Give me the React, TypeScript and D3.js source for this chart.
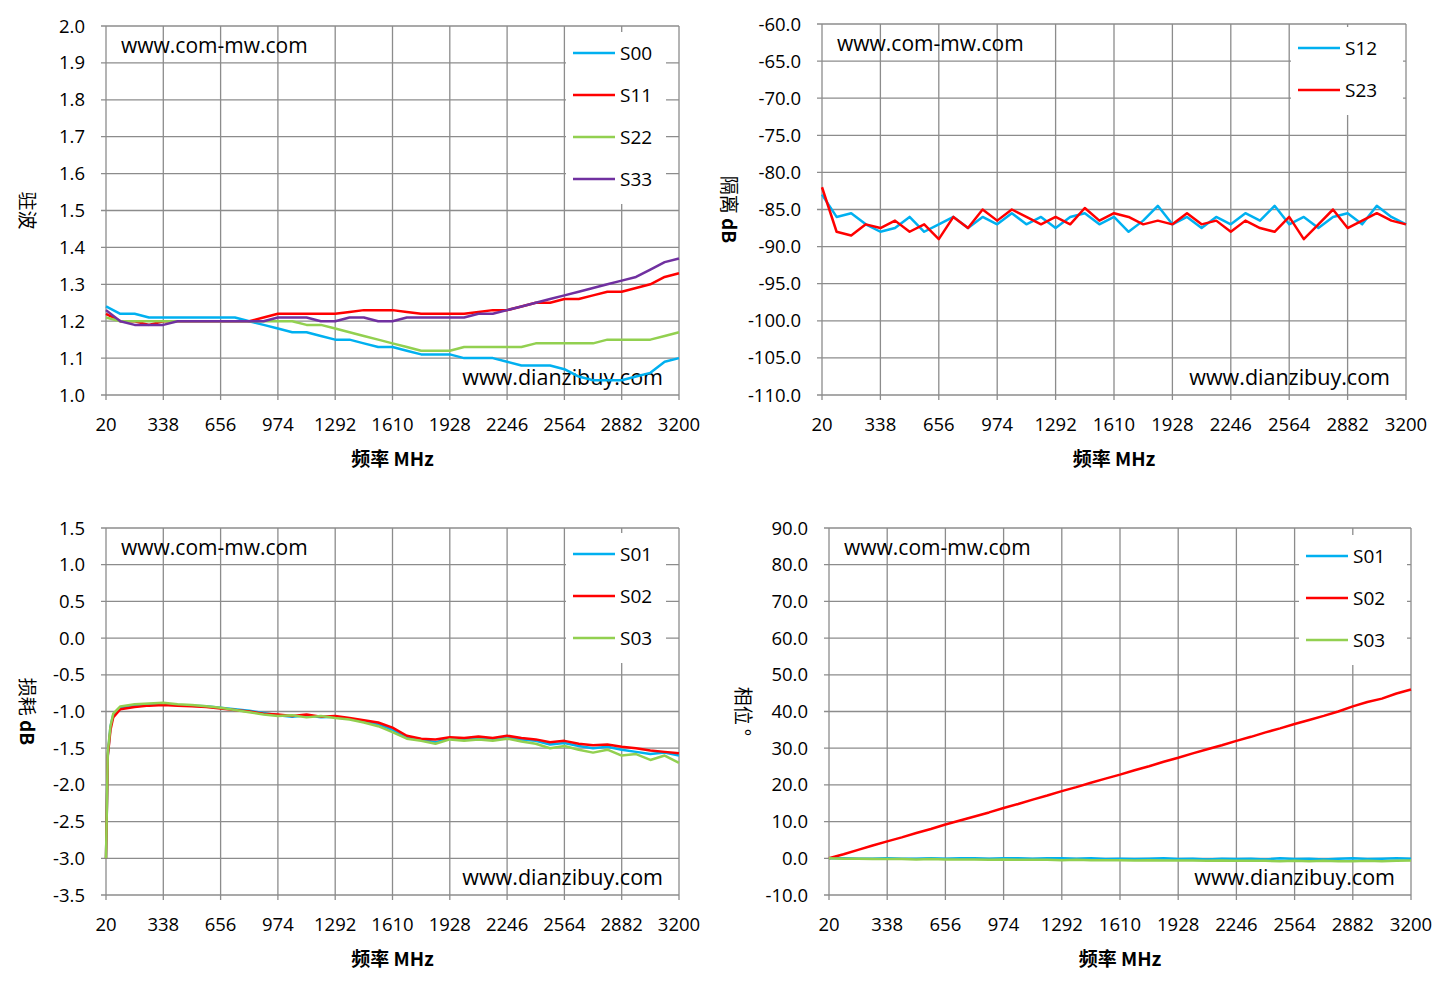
import React from 'react';
import * as d3 from 'd3';

const freqTicks = [20, 338, 656, 974, 1292, 1610, 1928, 2246, 2564, 2882, 3200];
const freq = [20, 99.5, 179, 258.5, 338, 417.5, 497, 576.5, 656, 735.5, 815, 894.5, 974, 1053.5, 1133, 1212.5, 1292, 1371.5, 1451, 1530.5, 1610, 1689.5, 1769, 1848.5, 1928, 2007.5, 2087, 2166.5, 2246, 2325.5, 2405, 2484.5, 2564, 2643.5, 2723, 2802.5, 2882, 2961.5, 3041, 3120.5, 3200];
const lossFreq = [20, 30, 45, 60, 99.5, 179, 258.5, 338, 417.5, 497, 576.5, 656, 735.5, 815, 894.5, 974, 1053.5, 1133, 1212.5, 1292, 1371.5, 1451, 1530.5, 1610, 1689.5, 1769, 1848.5, 1928, 2007.5, 2087, 2166.5, 2246, 2325.5, 2405, 2484.5, 2564, 2643.5, 2723, 2802.5, 2882, 2961.5, 3041, 3120.5, 3200];

const s00 = [1.24, 1.22, 1.22, 1.21, 1.21, 1.21, 1.21, 1.21, 1.21, 1.21, 1.2, 1.19, 1.18, 1.17, 1.17, 1.16, 1.15, 1.15, 1.14, 1.13, 1.13, 1.12, 1.11, 1.11, 1.11, 1.1, 1.1, 1.1, 1.09, 1.08, 1.08, 1.08, 1.07, 1.05, 1.04, 1.04, 1.04, 1.05, 1.06, 1.09, 1.1];
const s11 = [1.22, 1.2, 1.2, 1.19, 1.2, 1.2, 1.2, 1.2, 1.2, 1.2, 1.2, 1.21, 1.22, 1.22, 1.22, 1.22, 1.22, 1.225, 1.23, 1.23, 1.23, 1.225, 1.22, 1.22, 1.22, 1.22, 1.225, 1.23, 1.23, 1.24, 1.25, 1.25, 1.26, 1.26, 1.27, 1.28, 1.28, 1.29, 1.3, 1.32, 1.33];
const s22 = [1.21, 1.2, 1.2, 1.2, 1.2, 1.2, 1.2, 1.2, 1.2, 1.2, 1.2, 1.2, 1.2, 1.2, 1.19, 1.19, 1.18, 1.17, 1.16, 1.15, 1.14, 1.13, 1.12, 1.12, 1.12, 1.13, 1.13, 1.13, 1.13, 1.13, 1.14, 1.14, 1.14, 1.14, 1.14, 1.15, 1.15, 1.15, 1.15, 1.16, 1.17];
const s33 = [1.23, 1.2, 1.19, 1.19, 1.19, 1.2, 1.2, 1.2, 1.2, 1.2, 1.2, 1.2, 1.21, 1.21, 1.21, 1.2, 1.2, 1.21, 1.21, 1.2, 1.2, 1.21, 1.21, 1.21, 1.21, 1.21, 1.22, 1.22, 1.23, 1.24, 1.25, 1.26, 1.27, 1.28, 1.29, 1.3, 1.31, 1.32, 1.34, 1.36, 1.37];

const s12 = [-83, -86, -85.5, -87, -88, -87.5, -86, -88, -87, -86, -87.5, -86, -87, -85.5, -87, -86, -87.5, -86, -85.5, -87, -86, -88, -86.5, -84.5, -87, -86, -87.5, -86, -87, -85.5, -86.5, -84.5, -87, -86, -87.5, -86, -85.5, -87, -84.5, -86, -87];
const s23 = [-82, -88, -88.5, -87, -87.5, -86.5, -88, -87, -89, -86, -87.5, -85, -86.5, -85, -86, -87, -86, -87, -84.8, -86.5, -85.5, -86, -87, -86.5, -87, -85.5, -87, -86.5, -88, -86.5, -87.5, -88, -86, -89, -87, -85, -87.5, -86.5, -85.5, -86.5, -87];

const s01Loss = [-3.0, -1.6, -1.2, -1.05, -0.95, -0.92, -0.9, -0.9, -0.91, -0.92, -0.93, -0.95, -0.97, -0.99, -1.02, -1.05, -1.07, -1.05, -1.08, -1.07, -1.1, -1.14, -1.17, -1.25, -1.35, -1.38, -1.42, -1.36, -1.38, -1.36, -1.37, -1.35, -1.38, -1.4, -1.45, -1.43, -1.47, -1.5, -1.48, -1.52, -1.55, -1.58, -1.56, -1.6];
const s02Loss = [-3.0, -1.6, -1.25, -1.08, -0.97, -0.94, -0.92, -0.91, -0.92, -0.93, -0.94, -0.96, -0.98, -1.0, -1.03, -1.04, -1.06, -1.04, -1.07, -1.06, -1.09, -1.12, -1.15, -1.22, -1.33, -1.37, -1.38, -1.35, -1.36, -1.34, -1.36, -1.33, -1.36, -1.38, -1.42, -1.4, -1.44, -1.46, -1.45, -1.48, -1.5, -1.53, -1.55, -1.57];
const s03Loss = [-3.0, -1.55, -1.2, -1.03, -0.93, -0.9, -0.89, -0.88, -0.9, -0.91, -0.93, -0.95, -0.98, -1.01, -1.04, -1.06, -1.05, -1.08, -1.06, -1.09, -1.11, -1.15, -1.2, -1.28, -1.37, -1.4, -1.44, -1.38, -1.4, -1.38, -1.4, -1.37, -1.41, -1.44, -1.5, -1.47, -1.52, -1.56, -1.52, -1.6, -1.58, -1.66, -1.6, -1.7];

const s01Phase = [0, 0, -0.1, -0.1, 0, -0.1, -0.1, 0, -0.1, 0, 0, -0.1, 0, 0, -0.1, 0, 0, -0.1, 0, -0.2, -0.1, -0.2, -0.1, 0, -0.2, -0.1, -0.3, -0.1, -0.2, -0.1, -0.3, 0, -0.2, -0.1, -0.3, -0.1, 0, -0.2, -0.1, 0, -0.1];
const s02Phase = [0, 1.1, 2.3, 3.5, 4.6, 5.7, 6.9, 8.0, 9.2, 10.3, 11.4, 12.5, 13.7, 14.8, 16.0, 17.1, 18.3, 19.4, 20.6, 21.7, 22.8, 24.0, 25.1, 26.3, 27.4, 28.6, 29.7, 30.8, 32.0, 33.1, 34.3, 35.4, 36.6, 37.7, 38.8, 40.0, 41.4, 42.6, 43.5, 44.9, 46.0];
const s03Phase = [0, -0.1, -0.1, -0.2, -0.2, -0.2, -0.3, -0.2, -0.3, -0.3, -0.3, -0.4, -0.3, -0.4, -0.4, -0.4, -0.5, -0.4, -0.5, -0.5, -0.5, -0.6, -0.5, -0.6, -0.6, -0.6, -0.7, -0.6, -0.7, -0.7, -0.7, -0.8, -0.7, -0.8, -0.7, -0.8, -0.8, -0.7, -0.8, -0.7, -0.6];

const BLUE = '#00b0f0', RED = '#ff0000', GREEN = '#92d050', PURPLE = '#7030a0';
const TICK_FONT = '"Open Sans", "Noto Sans", sans-serif';
const CJK = '"Noto Sans CJK SC", sans-serif';

interface Series { name: string; color: string; x: number[]; y: number[]; }
interface PanelProps {
  x0: number; x1: number; y0: number; y1: number;
  yDomain: [number, number]; yStep: number;
  yTitle: string; yUnit: string; titleX: number;
  series: Series[];
  legend: { x: number; y: number; w: number };
}

const fmt = (v: number) => d3.format('.1f')(v).replace('−', '-');

const Panel: React.FC<PanelProps> = ({ x0, x1, y0, y1, yDomain, yStep, yTitle, yUnit, titleX, series, legend }) => {
  const x = d3.scaleLinear().domain([20, 3200]).range([x0, x1]);
  const y = d3.scaleLinear().domain(yDomain).range([y1, y0]);
  const yTicks = d3.range(yDomain[0], yDomain[1] + yStep / 2, yStep);
  const line = (s: Series) => d3.line<number>().x((_, i) => x(s.x[i])).y(d => y(d))(s.y) || '';
  const grid = '#8c8c8c';
  return (
    <g>
      {yTicks.map(t => (
        <g key={'y' + t}>
          <line x1={x0 - 5} x2={x1} y1={y(t)} y2={y(t)} stroke={grid} strokeWidth={1.3} />
          <text x={x0 - 21} y={y(t) + 6.5} textAnchor="end" fontSize={18.5} fontFamily={TICK_FONT}>{fmt(t)}</text>
        </g>
      ))}
      {freqTicks.map(t => (
        <g key={'x' + t}>
          <line x1={x(t)} x2={x(t)} y1={y0} y2={y1 + 5} stroke={grid} strokeWidth={1.3} />
          <text x={x(t)} y={y1 + 36} textAnchor="middle" fontSize={18.5} fontFamily={TICK_FONT}>{t}</text>
        </g>
      ))}
      <text x={(x0 + x1) / 2} y={y1 + 71} textAnchor="middle" fontSize={19} fontWeight="bold" fontFamily={CJK}>频率 MHz</text>
      <text transform={`translate(${titleX},${(y0 + y1) / 2}) rotate(90)`} textAnchor="middle" fontSize={19} fontFamily={CJK}>
        {yTitle}<tspan fontWeight="bold">{yUnit}</tspan>
      </text>
      <text x={x0 + 15} y={y0 + 27} fontSize={21} fontFamily={TICK_FONT}>www.com-mw.com</text>
      <text x={x1 - 16} y={y1 - 10} textAnchor="end" fontSize={21.5} fontFamily={TICK_FONT}>www.dianzibuy.com</text>
      <rect x={legend.x} y={legend.y} width={legend.w} height={series.length * 42 + 4} fill="#fff" />
      {series.map((s, i) => (
        <g key={'l' + s.name}>
          <line x1={legend.x + 7} x2={legend.x + 49} y1={legend.y + 21 + i * 42} y2={legend.y + 21 + i * 42} stroke={s.color} strokeWidth={2.5} />
          <text x={legend.x + 54} y={legend.y + 28 + i * 42} fontSize={19} fontFamily={TICK_FONT}>{s.name}</text>
        </g>
      ))}
      {series.map(s => (
        <path key={'p' + s.name} d={line(s)} fill="none" stroke={s.color} strokeWidth={2.5} strokeLinejoin="round" />
      ))}
    </g>
  );
};

const App: React.FC = () => (
  <svg width={1441} height={991} style={{ position: 'absolute', left: 0, top: 0, background: '#fff' }}>
    <Panel x0={106} x1={679} y0={26} y1={395} yDomain={[1.0, 2.0]} yStep={0.1} yTitle="驻波" yUnit="" titleX={20}
      legend={{ x: 566, y: 32, w: 100 }}
      series={[
        { name: 'S00', color: BLUE, x: freq, y: s00 },
        { name: 'S11', color: RED, x: freq, y: s11 },
        { name: 'S22', color: GREEN, x: freq, y: s22 },
        { name: 'S33', color: PURPLE, x: freq, y: s33 },
      ]} />
    <Panel x0={822} x1={1406} y0={24} y1={395} yDomain={[-110, -60]} yStep={5} yTitle="隔离 " yUnit="dB" titleX={722}
      legend={{ x: 1291, y: 27, w: 112 }}
      series={[
        { name: 'S12', color: BLUE, x: freq, y: s12 },
        { name: 'S23', color: RED, x: freq, y: s23 },
      ]} />
    <Panel x0={106} x1={679} y0={528} y1={895} yDomain={[-3.5, 1.5]} yStep={0.5} yTitle="损耗 " yUnit="dB" titleX={20}
      legend={{ x: 566, y: 533, w: 100 }}
      series={[
        { name: 'S01', color: BLUE, x: lossFreq, y: s01Loss },
        { name: 'S02', color: RED, x: lossFreq, y: s02Loss },
        { name: 'S03', color: GREEN, x: lossFreq, y: s03Loss },
      ]} />
    <Panel x0={829} x1={1411} y0={528} y1={895} yDomain={[-10, 90]} yStep={10} yTitle="相位 °" yUnit="" titleX={736}
      legend={{ x: 1299, y: 535, w: 108 }}
      series={[
        { name: 'S01', color: BLUE, x: freq, y: s01Phase },
        { name: 'S02', color: RED, x: freq, y: s02Phase },
        { name: 'S03', color: GREEN, x: freq, y: s03Phase },
      ]} />
  </svg>
);

export default App;
